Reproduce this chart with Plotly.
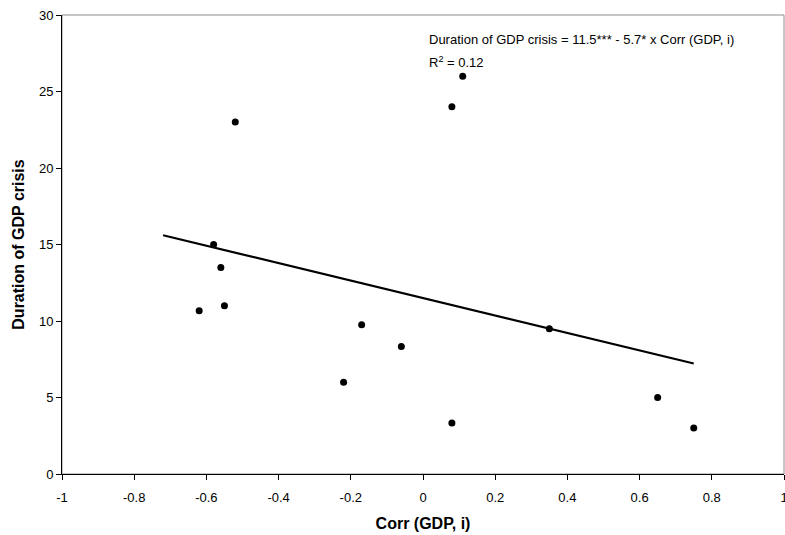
import plotly.graph_objects as go

# data
corr_gdp_i = [-0.62, -0.58, -0.56, -0.55, -0.52, -0.22, -0.17, -0.06, 0.08, 0.08, 0.11, 0.35, 0.65, 0.75]
crisis_duration = [10.67, 15, 13.5, 11, 23, 6, 9.75, 8.33, 3.33, 24, 26, 9.5, 5, 3]

# regression (as printed on the chart) and span of the fitted line
intercept = 11.5
slope = -5.7
trend_span = [-0.72, 0.75]
trend_y = [intercept + slope * v for v in trend_span]

x_ticks = [-1, -0.8, -0.6, -0.4, -0.2, 0, 0.2, 0.4, 0.6, 0.8, 1]
y_ticks = [0, 5, 10, 15, 20, 25, 30]

font = "Liberation Sans, Arial, sans-serif"

fig = go.Figure()
fig.add_trace(go.Scatter(x=trend_span, y=trend_y, mode="lines",
                         line=dict(color="black", width=2.2), hoverinfo="skip"))
fig.add_trace(go.Scatter(x=corr_gdp_i, y=crisis_duration, mode="markers",
                         marker=dict(color="black", size=7)))

# thin grey frame on top / right like the excel plot area
fig.add_shape(type="rect", xref="paper", yref="paper", x0=0, y0=0, x1=1, y1=1,
              line=dict(color="#8c8c8c", width=1), layer="below")

fig.add_annotation(x=0.01, y=28.4, xref="x", yref="y", xanchor="left", yanchor="middle",
                   text="Duration of GDP crisis = 11.5*** - 5.7* x Corr (GDP, i)",
                   showarrow=False, font=dict(size=13, color="black"))
fig.add_annotation(x=0.01, y=26.95, xref="x", yref="y", xanchor="left", yanchor="middle",
                   text="R<sup>2</sup> = 0.12",
                   showarrow=False, font=dict(size=13, color="black"))

fig.update_layout(
    width=785, height=535,
    margin=dict(l=62, r=1, t=15, b=61),
    plot_bgcolor="white", paper_bgcolor="white",
    showlegend=False,
    font=dict(family=font, size=13, color="black"),
    xaxis=dict(range=[-1, 1], tickvals=x_ticks, ticktext=[f"{v:g}" for v in x_ticks],
               showgrid=False, zeroline=False, showline=True, linecolor="black", linewidth=1,
               ticks="outside", ticklen=5, tickcolor="black", ticklabelstandoff=6,
               ticklabeloverflow="allow", automargin=False,
               title=dict(text="<b>Corr (GDP, i)</b>", font=dict(size=16), standoff=14)),
    yaxis=dict(range=[0, 30], tickvals=y_ticks,
               showgrid=False, zeroline=False, showline=True, linecolor="black", linewidth=1,
               ticks="outside", ticklen=5, tickcolor="black",
               title=dict(text="<b>Duration of GDP crisis</b>", font=dict(size=16), standoff=10)),
)

# drop the default page margin so the figure sits at the window corner
fig.write_html("out.html", config={"displayModeBar": False},
               post_script="document.body.style.margin='0';document.body.style.overflow='hidden';")
